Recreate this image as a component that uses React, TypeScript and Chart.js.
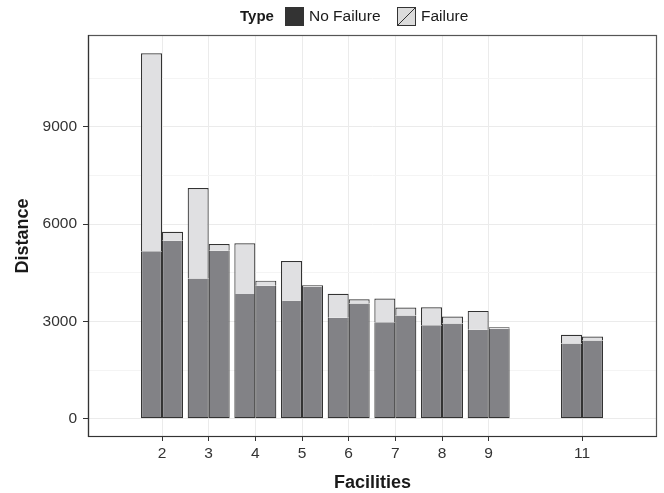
import React, { useEffect, useRef } from "react";
import { Chart, registerables } from "chart.js";

Chart.register(...registerables);

// ---- data ----
const facilities = [2, 3, 4, 5, 6, 7, 8, 9, 11];
const leftNoFailure = [5160, 4320, 3848, 3633, 3115, 2975, 2882, 2740, 2319];
const leftFailure = [6108, 2792, 1559, 1231, 738, 729, 555, 585, 267];
const rightNoFailure = [5485, 5182, 4104, 4064, 3550, 3180, 2934, 2771, 2411];
const rightFailure = [277, 205, 154, 49, 133, 247, 216, 51, 123];
const yMajorTicks = [0, 3000, 6000, 9000];
const yMinorTicks = [1500, 4500, 7500, 10500];
const xTicks = facilities;
const legendTitle = "Type";
const seriesNames = ["No Failure", "Failure"];
const xTitle = "Facilities";
const yTitle = "Distance";

const FONT = "'Liberation Sans', Arial, Helvetica, sans-serif";
const DARK = "#828286";
const LIGHT = "#e0e0e2";
const EDGE = "#333333";

const pts = (arr: number[]) => facilities.map((x, i) => ({ x, y: arr[i] }));

const legendPlugin = {
  id: "typeLegend",
  afterDraw(chart: any) {
    const ctx = chart.ctx as CanvasRenderingContext2D;
    ctx.save();
    const cy = 17;
    ctx.textBaseline = "middle";
    ctx.textAlign = "left";
    ctx.fillStyle = "#1a1a1a";
    ctx.font = `bold 15px ${FONT}`;
    ctx.fillText(legendTitle, 240, cy);
    // dark key
    ctx.fillStyle = "#333333";
    ctx.fillRect(285, 7, 19, 19);
    ctx.fillStyle = "#1a1a1a";
    ctx.font = `15.5px ${FONT}`;
    ctx.fillText(seriesNames[0], 309, cy);
    // light key
    ctx.fillStyle = "#dcdcdc";
    ctx.fillRect(397, 7, 19, 19);
    ctx.strokeStyle = "#333333";
    ctx.lineWidth = 1;
    ctx.strokeRect(397.5, 7.5, 18, 18);
    ctx.beginPath();
    ctx.moveTo(398, 25);
    ctx.lineTo(415, 8);
    ctx.stroke();
    ctx.fillStyle = "#1a1a1a";
    ctx.fillText(seriesNames[1], 421, cy);
    ctx.restore();
  },
};

const borderPlugin = {
  id: "panelBorder",
  afterDatasetsDraw(chart: any) {
    const { left, right, top, bottom } = chart.chartArea;
    const ctx = chart.ctx as CanvasRenderingContext2D;
    ctx.save();
    ctx.strokeStyle = "#555555";
    ctx.lineWidth = 1.2;
    ctx.strokeRect(left + 0.5, top + 0.5, right - left - 1, bottom - top - 1);
    ctx.strokeStyle = "#333333";
    ctx.beginPath();
    ctx.moveTo(left + 0.5, top);
    ctx.lineTo(left + 0.5, bottom - 0.5);
    ctx.lineTo(right, bottom - 0.5);
    ctx.stroke();
    ctx.restore();
  },
};

export default function App() {
  const ref = useRef<HTMLCanvasElement | null>(null);

  useEffect(() => {
    if (!ref.current) return;
    Chart.defaults.font.family = FONT;
    const darkBorder = { top: 0, left: 1.2, right: 1.2, bottom: 1.2 };
    const lightBorder = { top: 1.2, left: 1.2, right: 1.2, bottom: 0 };
    const common = {
      borderColor: EDGE,
      borderSkipped: false,
      categoryPercentage: 0.9,
      barPercentage: 1.0,
    };
    const chart = new Chart(ref.current, {
      type: "bar",
      data: {
        datasets: [
          { ...common, label: seriesNames[0], stack: "L", data: pts(leftNoFailure), backgroundColor: DARK, borderWidth: darkBorder },
          { ...common, label: seriesNames[1], stack: "L", data: pts(leftFailure), backgroundColor: LIGHT, borderWidth: lightBorder },
          { ...common, label: seriesNames[0] + " ", stack: "R", data: pts(rightNoFailure), backgroundColor: DARK, borderWidth: darkBorder },
          { ...common, label: seriesNames[1] + " ", stack: "R", data: pts(rightFailure), backgroundColor: LIGHT, borderWidth: lightBorder },
        ] as any,
      },
      options: {
        animation: false,
        responsive: false,
        devicePixelRatio: 1,
        layout: { padding: { top: 35, right: 7, left: 0, bottom: 0 } },
        plugins: {
          legend: { display: false },
          tooltip: { enabled: false },
        },
        scales: {
          x: {
            type: "linear",
            min: 0.414,
            max: 12.607,
            offset: false,
            afterBuildTicks: (axis: any) => {
              axis.ticks = xTicks.map((v) => ({ value: v }));
            },
            afterFit: (axis: any) => {
              axis.height = 56;
            },
            ticks: {
              autoSkip: false,
              maxRotation: 0,
              padding: 3,
              color: "#333333",
              font: { size: 15.5, family: FONT },
              callback: (v: any) => String(v),
            },
            grid: {
              color: "#ebebeb",
              tickColor: "#333333",
              tickLength: 4,
              offset: false,
              lineWidth: 1,
            },
            border: { display: false },
            title: {
              display: true,
              text: xTitle,
              color: "#1a1a1a",
              font: { size: 18, weight: "bold", family: FONT, lineHeight: 1 },
              padding: { top: 4, bottom: 1 },
            },
          },
          y: {
            type: "linear",
            min: -563,
            max: 11831,
            stacked: true,
            afterBuildTicks: (axis: any) => {
              axis.ticks = [...yMajorTicks, ...yMinorTicks]
                .sort((a, b) => a - b)
                .map((v) => ({ value: v }));
            },
            afterFit: (axis: any) => {
              axis.width = 88;
            },
            ticks: {
              padding: 6,
              color: "#333333",
              font: { size: 15.5, family: FONT },
              callback: (v: any) => (yMajorTicks.includes(Number(v)) ? String(v) : ""),
            },
            grid: {
              color: (c: any) =>
                c.tick && yMajorTicks.includes(c.tick.value) ? "#ebebeb" : "#f4f4f4",
              tickColor: (c: any) =>
                c.tick && yMajorTicks.includes(c.tick.value) ? "#333333" : "rgba(0,0,0,0)",
              tickLength: 5,
              lineWidth: 1,
            },
            border: { display: false },
            title: {
              display: true,
              text: yTitle,
              color: "#1a1a1a",
              font: { size: 18, weight: "bold", family: FONT, lineHeight: 1 },
              padding: { top: 14, bottom: 0 },
            },
          },
        },
      } as any,
      plugins: [legendPlugin, borderPlugin],
    });
    return () => chart.destroy();
  }, []);

  return (
    <div style={{ position: "absolute", left: 0, top: 0, width: 664, height: 493, background: "#ffffff" }}>
      <canvas ref={ref} width={664} height={493} style={{ display: "block" }} />
    </div>
  );
}
